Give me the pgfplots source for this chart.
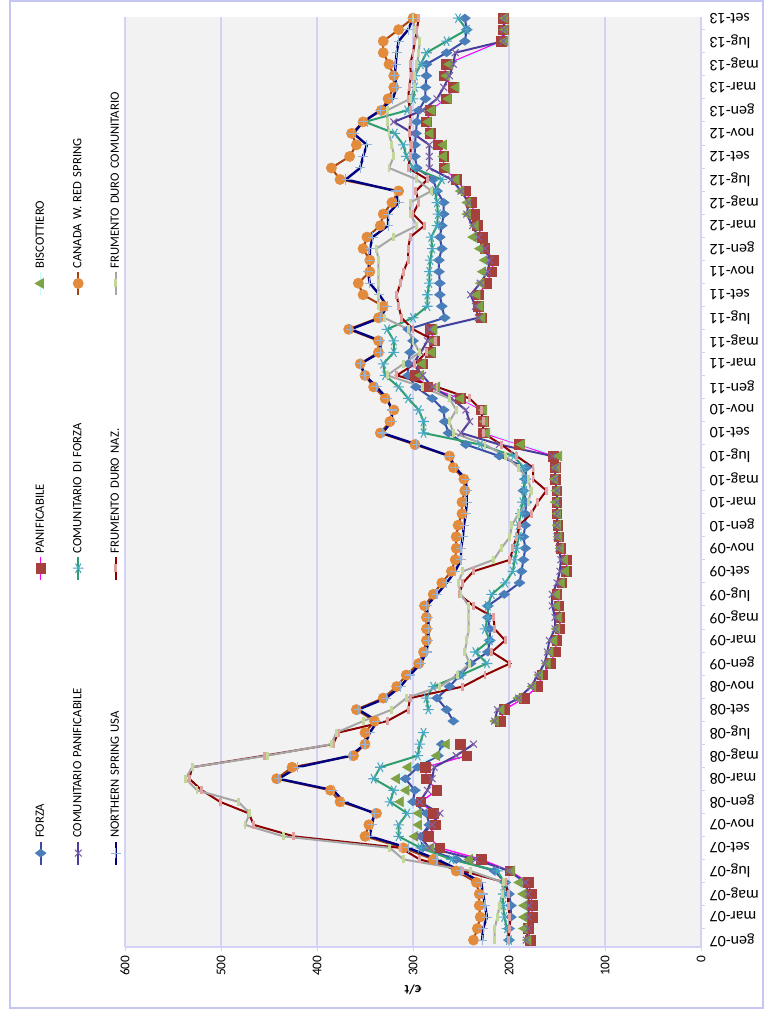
\documentclass[border=0pt]{standalone}
\usepackage{pgfplots}
\pgfplotsset{compat=1.18}
\usepackage{fontspec}
\setmainfont{Carlito}

\definecolor{forzaL}{HTML}{3A4DA6}
\definecolor{forzaM}{HTML}{4A7EBB}
\definecolor{panL}{HTML}{FF00FF}
\definecolor{panM}{HTML}{A5403C}
\definecolor{bisL}{HTML}{C8FAFA}
\definecolor{bisM}{HTML}{7FA344}
\definecolor{cpL}{HTML}{4B3C9C}
\definecolor{cpM}{HTML}{7D62A6}
\definecolor{cfL}{HTML}{2F9E6D}
\definecolor{cfM}{HTML}{46A8C2}
\definecolor{caL}{HTML}{A8430F}
\definecolor{caM}{HTML}{E38B3D}
\definecolor{nsL}{HTML}{000080}
\definecolor{nsM}{HTML}{95B3D7}
\definecolor{dnL}{HTML}{8B0000}
\definecolor{dnM}{HTML}{E0A0A0}
\definecolor{dcL}{HTML}{A6A6A6}
\definecolor{dcM}{HTML}{C3D69B}
\definecolor{gridc}{HTML}{D2D2F7}
\definecolor{plotbg}{HTML}{F2F2F2}
\definecolor{framec}{HTML}{C6C6F2}

\begin{document}
\begin{tikzpicture}
\begin{scope}[rotate=90, transform shape]
\path[use as bounding box] (0,0) rectangle (757.5pt,573.75pt);
\draw[framec, line width=1pt] (1.5pt,1.5pt) rectangle (756.75pt,566.25pt);
\begin{axis}[
  at={(47.25pt,48pt)}, anchor=south west,
  scale only axis, width=697.5pt, height=432pt,
  xmin=-0.6, xmax=80.1, ymin=0, ymax=600,
  axis lines=left, axis line style={-, draw=gridc, line width=0.8pt},
  axis background/.style={fill=plotbg},
  ytick={0,100,...,600}, ymajorgrids,
  grid style={draw=gridc, line width=0.8pt},
  xtick={0,2,...,80},
  xticklabels={gen-07,mar-07,mag-07,lug-07,set-07,nov-07,
    gen-08,mar-08,mag-08,lug-08,set-08,nov-08,
    gen-09,mar-09,mag-09,lug-09,set-09,nov-09,
    gen-10,mar-10,mag-10,lug-10,set-10,nov-10,
    gen-11,mar-11,mag-11,lug-11,set-11,nov-11,
    gen-12,mar-12,mag-12,lug-12,set-12,nov-12,
    gen-13,mar-13,mag-13,lug-13,set-13},
  minor xtick={1,3,...,79},
  tick align=outside, tick style={draw=gridc, line width=0.6pt},
  major tick length=3pt, minor tick length=3pt,
  major x tick style={draw=none},
  x tick label style={rotate=90, anchor=east, font=\fontsize{12}{14}\selectfont},
  y tick label style={font=\fontsize{10}{12}\selectfont},
  /pgf/number format/assume math mode=true,
  ylabel={\textbf{€/t}}, ylabel style={font=\fontsize{10}{12}\selectfont},
  unbounded coords=jump,
  legend columns=3,
  legend cell align=left,
  legend style={draw=none, fill=none, at={(0.0828,1.165)}, anchor=north west,
    font=\fontsize{9.5}{11}\selectfont, row sep=16.5pt,
    /tikz/every even column/.append style={nodes={text width=191pt}}},
  every axis plot/.append style={line width=1.5pt},
]
% FORZA
\addplot[forzaL, mark=diamond*, mark size=4pt, mark options={fill=forzaM, draw=forzaM, line width=0.5pt}] coordinates {
(0,200)(1,200)(2,198)(3,198)(4,200)(5,204)(6,215)(7,255)(8,290)(9,292)(10,283)(11,286)(12,300)(13,298)(14,308)(15,295)(16,274)(17,270)(18,nan)(19,258)(20,265)(21,275)(22,262)(23,251)(24,240)(25,222)(26,220)(27,220)(28,222)(29,222)(30,205)(31,189)(32,187)(33,185)(34,183)(35,185)(36,183)(37,183)(38,182)(39,185)(40,183)(41,182)(42,210)(43,245)(44,263)(45,267)(46,268)(47,280)(48,297)(49,305)(50,305)(51,303)(52,300)(53,305)(54,267)(55,270)(56,272)(57,272)(58,273)(59,273)(60,270)(61,272)(62,270)(63,268)(64,268)(65,275)(66,279)(67,296)(68,298)(69,298)(70,297)(71,296)(72,294)(73,287)(74,287)(75,286)(76,286)(77,265)(78,246)(79,244)(80,246)};
\addlegendentry{FORZA}
% PANIFICABILE
\addplot[panL, line width=1pt, mark=square*, mark size=3.6pt, mark options={fill=panM, draw=panM, line width=0.5pt}] coordinates {
(0,178)(1,180)(2,176)(3,176)(4,177)(5,180)(6,199)(7,229)(8,272)(9,284)(10,277)(11,279)(12,292)(13,275)(14,286)(15,287)(16,244)(17,251)(18,nan)(19,209)(20,205)(21,184)(22,170)(23,165)(24,157)(25,152)(26,150)(27,147)(28,147)(29,148)(30,150)(31,145)(32,140)(33,140)(34,146)(35,148)(36,149)(37,150)(38,150)(39,150)(40,152)(41,152)(42,154)(43,189)(44,227)(45,227)(46,229)(47,251)(48,285)(49,298)(50,290)(51,282)(52,278)(53,282)(54,229)(55,232)(56,232)(57,223)(58,218)(59,216)(60,225)(61,228)(62,233)(63,236)(64,239)(65,245)(66,255)(67,268)(68,268)(69,274)(70,282)(71,286)(72,282)(73,265)(74,258)(75,268)(76,265)(78,208)(79,206)(80,206)};
\addlegendentry{PANIFICABILE}
% BISCOTTIERO
\addplot[bisL, line width=1pt, mark=triangle*, mark size=4.2pt, mark options={fill=bisM, draw=bisM, line width=0.5pt}] coordinates {
(0,180)(1,184)(2,184)(3,184)(4,185)(5,189)(6,197)(7,241)(8,281)(9,298)(10,294)(11,294)(12,313)(13,307)(14,317)(15,305)(16,275)(17,265)(18,nan)(19,214)(20,208)(21,190)(22,175)(23,168)(24,160)(25,157)(26,153)(27,150)(28,148)(29,150)(30,150)(31,145)(32,141)(33,142)(34,146)(35,148)(36,149)(37,149)(38,151)(39,150)(40,152)(41,150)(42,148)(43,187)(44,223)(45,225)(46,226)(47,250)(48,275)(49,292)(50,290)(51,280)(52,278)(53,278)(54,228)(55,230)(56,233)(57,229)(58,227)(59,225)(60,230)(61,237)(62,235)(63,243)(64,243)(65,250)(66,255)(67,265)(68,268)(69,268)(70,282)(71,284)(72,280)(73,263)(74,255)(75,265)(76,262)(78,204)(79,204)(80,204)};
\addlegendentry{BISCOTTIERO}
% COMUNITARIO PANIFICABILE
\addplot[cpL, mark=x, mark size=3.6pt, mark options={draw=cpM, line width=0.8pt}] coordinates {
(0,182)(1,180)(2,180)(3,179)(4,180)(5,183)(6,200)(7,235)(8,283)(9,293)(10,280)(11,272)(12,293)(13,285)(14,280)(15,278)(16,255)(17,237)(18,nan)(19,215)(20,212)(21,190)(22,177)(23,170)(24,163)(25,160)(26,158)(27,152)(28,152)(29,155)(30,155)(31,150)(32,147)(33,146)(34,148)(35,150)(36,150)(37,150)(38,150)(39,150)(40,152)(41,152)(42,155)(43,210)(44,250)(45,241)(46,245)(47,260)(48,280)(49,290)(50,300)(51,292)(52,285)(53,283)(54,232)(55,235)(56,240)(57,230)(58,222)(59,220)(60,225)(61,232)(62,238)(63,244)(64,242)(65,250)(66,260)(67,283)(68,283)(69,283)(70,300)(71,320)(72,290)(73,275)(74,268)(75,262)(76,258)(77,256)(78,206)(79,205)(80,205)};
\addlegendentry{COMUNITARIO PANIFICABILE}
% COMUNITARIO DI FORZA
\addplot[cfL, mark=asterisk, mark size=4pt, mark options={draw=cfM, line width=0.8pt}] coordinates {
(0,200)(1,202)(2,205)(3,206)(4,206)(5,205)(6,212)(7,260)(8,292)(9,315)(10,315)(11,306)(12,324)(13,320)(14,341)(15,334)(16,295)(17,293)(18,289)(19,nan)(20,284)(21,286)(22,279)(23,250)(24,223)(25,235)(26,220)(27,225)(28,222)(29,222)(30,218)(31,204)(32,196)(33,194)(34,192)(35,190)(36,190)(37,188)(38,186)(39,184)(40,184)(41,185)(42,195)(43,230)(44,289)(45,289)(46,294)(47,305)(48,315)(49,329)(50,331)(51,320)(52,320)(53,327)(54,300)(55,285)(56,285)(57,283)(58,283)(59,282)(60,280)(61,281)(62,275)(63,274)(64,275)(65,277)(66,270)(67,300)(68,307)(69,310)(70,319)(71,350)(72,306)(73,300)(74,298)(75,298)(76,292)(77,286)(78,265)(79,244)(80,253)};
\addlegendentry{COMUNITARIO  DI FORZA}
% CANADA W. RED SPRING
\addplot[caL, mark=*, mark size=3.8pt, mark options={fill=caM, draw=caM, line width=0.5pt}] coordinates {
(0,237)(1,233)(2,230)(3,231)(4,231)(5,234)(6,255)(7,279)(8,310)(9,350)(10,346)(11,338)(12,376)(13,386)(14,442)(15,426)(16,362)(17,350)(18,350)(19,340)(20,359)(21,331)(22,317)(23,307)(24,294)(25,289)(26,286)(27,286)(28,286)(29,288)(30,279)(31,270)(32,260)(33,256)(34,255)(35,255)(36,253)(37,249)(38,249)(39,246)(40,247)(41,258)(42,262)(43,298)(44,334)(45,324)(46,320)(47,329)(48,341)(49,350)(50,355)(51,336)(52,336)(53,367)(54,336)(55,331)(56,352)(57,357)(58,345)(59,345)(60,352)(61,348)(62,334)(63,331)(64,322)(65,315)(66,376)(67,385)(68,366)(69,359)(70,364)(71,352)(72,333)(73,326)(74,320)(75,320)(76,325)(77,331)(78,331)(79,315)(80,300)};
\addlegendentry{CANADA W. RED SPRING}
% NORTHERN SPRING USA
\addplot[nsL, line width=1.8pt, mark=+, mark size=3.8pt, mark options={draw=nsM, line width=0.8pt}] coordinates {
(0,228)(1,227)(2,223)(3,225)(4,227)(5,229)(6,250)(7,275)(8,305)(9,345)(10,343)(11,340)(12,372)(13,383)(14,440)(15,420)(16,365)(17,350)(18,345)(19,337)(20,357)(21,328)(22,313)(23,303)(24,292)(25,286)(26,284)(27,284)(28,284)(29,286)(30,275)(31,265)(32,256)(33,250)(34,250)(35,248)(36,247)(37,245)(38,244)(39,244)(40,245)(41,256)(42,262)(43,296)(44,332)(45,322)(46,322)(47,327)(48,338)(49,350)(50,355)(51,334)(52,334)(53,365)(54,334)(55,327)(56,335)(57,345)(58,347)(59,345)(60,345)(61,342)(62,326)(63,326)(64,315)(65,318)(66,370)(67,355)(68,352)(69,348)(70,362)(71,352)(72,334)(73,321)(74,317)(75,319)(76,318)(77,317)(78,315)(79,305)(80,300)};
\addlegendentry{NORTHERN  SPRING USA}
% FRUMENTO DURO NAZ.
\addplot[dnL, mark=-, mark size=3pt, mark options={draw=dnM, line width=2.2pt}] coordinates {
(0,201)(1,199)(2,199)(3,201)(4,201)(5,204)(6,248)(7,293)(8,313)(9,424)(10,466)(11,471)(12,501)(13,520)(14,533)(15,530)(16,455)(17,383)(18,378)(19,327)(20,305)(21,303)(22,248)(23,225)(24,199)(25,218)(26,204)(27,215)(28,216)(29,237)(30,252)(31,248)(32,237)(33,199)(34,196)(35,192)(36,189)(37,177)(38,170)(39,161)(40,175)(41,175)(42,192)(43,208)(44,227)(45,227)(46,229)(47,241)(48,275)(49,317)(50,298)(51,286)(52,277)(53,300)(54,312)(55,315)(56,317)(57,313)(58,310)(59,305)(60,305)(61,303)(62,288)(63,300)(64,294)(65,297)(66,285)(67,305)(68,303)(69,302)(70,304)(71,303)(72,303)(73,305)(74,304)(75,302)(76,303)(77,300)(78,298)(79,296)(80,294)};
\addlegendentry{FRUMENTO DURO NAZ.}
% FRUMENTO DURO COMUNITARIO
\addplot[dcL, mark=-, mark size=3pt, mark options={draw=dcM, line width=2.2pt}] coordinates {
(0,215)(1,215)(2,212)(3,210)(4,207)(5,206)(6,240)(7,310)(8,324)(9,435)(10,475)(11,470)(12,482)(13,525)(14,537)(15,530)(16,452)(17,385)(18,380)(19,352)(20,322)(21,307)(22,272)(23,254)(24,241)(25,246)(26,244)(27,242)(28,242)(29,242)(30,250)(31,253)(32,248)(33,216)(34,208)(35,199)(36,197)(37,190)(38,180)(39,177)(40,180)(41,190)(42,204)(43,225)(44,258)(45,262)(46,255)(47,262)(48,290)(49,327)(50,310)(51,293)(52,300)(53,305)(54,330)(55,336)(56,336)(57,336)(58,336)(59,336)(60,338)(61,320)(62,296)(63,303)(64,303)(65,281)(66,296)(67,325)(68,320)(69,322)(70,325)(71,327)(72,327)(73,303)(74,298)(75,298)(76,296)(77,294)(78,293)(79,298)(80,300)};
\addlegendentry{FRUMENTO DURO COMUNITARIO}
\end{axis}
\end{scope}
\end{tikzpicture}
\end{document}
